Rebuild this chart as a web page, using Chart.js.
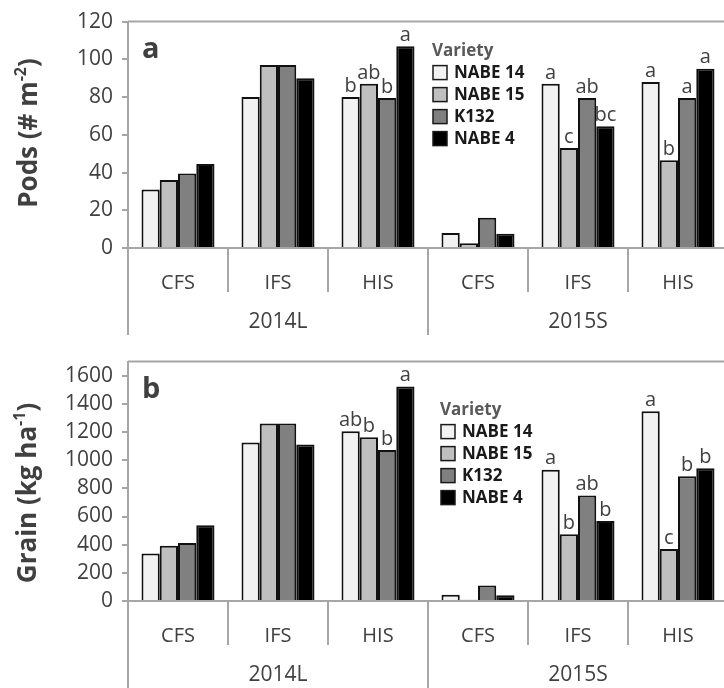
<!DOCTYPE html>
<html>
<head>
<meta charset="utf-8">
<script src="https://cdn.jsdelivr.net/npm/chart.js@4.4.0/dist/chart.umd.min.js"></script>
<style>
  html, body { margin: 0; padding: 0; background: #fff; overflow: hidden; }
  #wrap { position: relative; width: 724px; height: 688px; overflow: hidden; }
  #grafico-a { position: absolute; left: 0; top: 0; }
  #grafico-b { position: absolute; left: 0; top: 340px; }
</style>
</head>
<body>
<div id="wrap">
  <canvas id="grafico-a" width="730" height="340"></canvas>
  <canvas id="grafico-b" width="730" height="348"></canvas>
</div>
<script>
// categorias do eixo x
const sistemas = ['CFS', 'IFS', 'HIS', 'CFS', 'IFS', 'HIS'];
const anos = ['2014L', '2015S'];
const variedades = ['NABE 14', 'NABE 15', 'K132', 'NABE 4'];

// (a) vagens - # m-2
const podsNabe14 = [31, 80, 80, 8, 87, 88];
const podsNabe15 = [36, 97, 87, 2.5, 53, 46.5];
const podsK132 = [39.5, 97, 79.5, 16, 79.5, 79.5];
const podsNabe4 = [44.5, 90, 107, 7.5, 64.5, 95];

const podsLetrasNabe14 = ['', '', 'b', '', 'a', 'a'];
const podsLetrasNabe15 = ['', '', 'ab', '', 'c', 'b'];
const podsLetrasK132 = ['', '', 'b', '', 'ab', 'a'];
const podsLetrasNabe4 = ['', '', 'a', '', 'bc', 'a'];

// (b) grao - kg ha-1
const graoNabe14 = [338, 1126, 1206, 45, 932, 1347];
const graoNabe15 = [392, 1260, 1163, 8, 474, 369];
const graoK132 = [411, 1260, 1072, 110, 749, 885];
const graoNabe4 = [538, 1112, 1523, 40, 568, 943];

const graoLetrasNabe14 = ['', '', 'ab', '', 'a', 'a'];
const graoLetrasNabe15 = ['', '', 'b', '', 'b', 'c'];
const graoLetrasK132 = ['', '', 'b', '', 'ab', 'b'];
const graoLetrasNabe4 = ['', '', 'a', '', 'b', 'b'];

// ticks do eixo y
const ticksPods = [0, 20, 40, 60, 80, 100, 120];
const ticksGrao = [0, 200, 400, 600, 800, 1000, 1200, 1400, 1600];

const cores = ['#f2f2f2', '#bfbfbf', '#808080', '#000000'];
const cinzaEixo = '#a6a6a6';
const corTexto = '#404040';
const fonte = '"Open Sans", "Liberation Sans", sans-serif';

// eixo com dois niveis (sistema / ano)
const eixoMultinivel = {
  id: 'eixoMultinivel',
  afterDraw(chart, args, opts) {
    const ctx = chart.ctx;
    const x = chart.scales.x;
    const base = chart.chartArea.bottom;
    const passo = x.getPixelForValue(1) - x.getPixelForValue(0);
    ctx.save();
    ctx.strokeStyle = cinzaEixo;
    ctx.lineWidth = 2;
    for (let i = 0; i <= sistemas.length; i++) {
      const px = x.getPixelForValue(0) - passo / 2 + i * passo;
      const fimAno = i % 3 === 0;
      ctx.beginPath();
      ctx.moveTo(px, base);
      ctx.lineTo(px, base + (fimAno ? opts.longo : opts.curto));
      ctx.stroke();
    }
    ctx.fillStyle = corTexto;
    ctx.font = '21px ' + fonte;
    ctx.textAlign = 'center';
    ctx.textBaseline = 'middle';
    for (let j = 0; j < anos.length; j++) {
      ctx.fillText(anos[j], x.getPixelForValue(j * 3 + 1), base + opts.anoY);
    }
    ctx.restore();
  }
};

// borda de cima e da direita da area do grafico
const moldura = {
  id: 'moldura',
  beforeDatasetsDraw(chart) {
    const ctx = chart.ctx;
    const a = chart.chartArea;
    ctx.save();
    ctx.strokeStyle = cinzaEixo;
    ctx.lineWidth = 2;
    ctx.beginPath();
    ctx.moveTo(a.left, a.top);
    ctx.lineTo(a.right, a.top);
    ctx.lineTo(a.right, a.bottom);
    ctx.stroke();
    ctx.restore();
  }
};

// letras de significancia em cima das barras
const letrasBarras = {
  id: 'letrasBarras',
  afterDatasetsDraw(chart, args, opts) {
    const ctx = chart.ctx;
    ctx.save();
    ctx.fillStyle = corTexto;
    ctx.font = '20px ' + fonte;
    ctx.textAlign = 'center';
    ctx.textBaseline = 'bottom';
    chart.data.datasets.forEach(function (ds, i) {
      const meta = chart.getDatasetMeta(i);
      meta.data.forEach(function (barra, j) {
        const txt = opts.letras[i][j];
        if (txt) ctx.fillText(txt, barra.x, barra.y - 1);
      });
    });
    ctx.restore();
  }
};

// legenda "Variety", letra do painel e titulo do eixo y
const extras = {
  id: 'extras',
  afterDraw(chart, args, opts) {
    const ctx = chart.ctx;
    const a = chart.chartArea;
    ctx.save();

    // letra do painel
    ctx.fillStyle = corTexto;
    ctx.font = 'bold 29px ' + fonte;
    ctx.textAlign = 'left';
    ctx.textBaseline = 'alphabetic';
    ctx.fillText(opts.painel, a.left + 14, a.top + 36);

    // legenda
    const lx = a.left + opts.legX;
    let ly = a.top + opts.legY;
    ctx.textBaseline = 'middle';
    ctx.fillStyle = '#595959';
    ctx.font = 'bold 17px ' + fonte;
    ctx.fillText('Variety', lx, ly);
    chart.data.datasets.forEach(function (ds, i) {
      const cy = ly + 21 + i * 22;
      ctx.fillStyle = ds.backgroundColor;
      ctx.fillRect(lx + 1, cy - 7, 14, 14);
      ctx.strokeStyle = '#1a1a1a';
      ctx.lineWidth = 1.5;
      ctx.strokeRect(lx + 1, cy - 7, 14, 14);
      ctx.fillStyle = '#1a1a1a';
      ctx.fillText(ds.label, lx + 22, cy + 1);
    });

    // titulo do eixo y com expoente
    ctx.translate(opts.tituloX, opts.tituloY);
    ctx.rotate(-Math.PI / 2);
    const fNormal = 'bold 26px ' + fonte;
    const fSup = 'bold 16px ' + fonte;
    let total = 0;
    opts.titulo.forEach(function (p) {
      ctx.font = p[1] ? fSup : fNormal;
      total += ctx.measureText(p[0]).width;
    });
    let px = -total / 2;
    ctx.fillStyle = corTexto;
    ctx.textAlign = 'left';
    ctx.textBaseline = 'middle';
    opts.titulo.forEach(function (p) {
      ctx.font = p[1] ? fSup : fNormal;
      ctx.fillText(p[0], px, p[1] ? -9 : 0);
      px += ctx.measureText(p[0]).width;
    });
    ctx.restore();
  }
};

function montarDatasets(valores) {
  let lista = [];
  for (let i = 0; i < variedades.length; i++) {
    lista.push({
      label: variedades[i],
      data: valores[i],
      backgroundColor: cores[i],
      borderColor: '#111111',
      borderWidth: 2,
      categoryPercentage: 0.73,
      barPercentage: 1
    });
  }
  return lista;
}

function plotarGrafico(id, valores, letras, ticks, yMax, cfg) {
  console.log('plotando ' + id);
  const config = {
    type: 'bar',
    data: { labels: sistemas, datasets: montarDatasets(valores) },
    options: {
      responsive: false,
      animation: false,
      devicePixelRatio: 1,
      layout: { padding: { top: cfg.topo, right: 2, left: 0, bottom: 0 } },
      scales: {
        x: {
          grid: { display: false },
          border: { display: true, color: cinzaEixo, width: 2 },
          ticks: { color: corTexto, font: { family: fonte, size: 20 }, padding: 15, maxRotation: 0 },
          afterFit: function (s) { s.height = cfg.alturaX; }
        },
        y: {
          min: 0,
          max: yMax,
          afterBuildTicks: function (s) {
            s.ticks = ticks.map(function (v) { return { value: v }; });
          },
          grid: { drawOnChartArea: false, drawTicks: true, tickLength: 6, color: cinzaEixo, lineWidth: 2 },
          border: { display: true, color: cinzaEixo, width: 2 },
          ticks: {
            color: corTexto, font: { family: fonte, size: 21 }, padding: 9,
            callback: function (v) { return String(v); }
          },
          afterFit: function (s) { s.width = 128; }
        }
      },
      plugins: {
        legend: { display: false },
        tooltip: { enabled: false },
        eixoMultinivel: { curto: 44, longo: 87, anoY: 74 },
        letrasBarras: { letras: letras },
        extras: cfg.extras
      }
    },
    plugins: [moldura, eixoMultinivel, letrasBarras, extras]
  };
  return new Chart(document.getElementById(id), config);
}

plotarGrafico('grafico-a',
  [podsNabe14, podsNabe15, podsK132, podsNabe4],
  [podsLetrasNabe14, podsLetrasNabe15, podsLetrasK132, podsLetrasNabe4],
  ticksPods, 120,
  {
    topo: 19, alturaX: 92,
    extras: { painel: 'a', legX: 304, legY: 30, tituloX: 30, tituloY: 133,
      titulo: [['Pods (# m', false], ['-2', true], [')', false]] }
  });

plotarGrafico('grafico-b',
  [graoNabe14, graoNabe15, graoK132, graoNabe4],
  [graoLetrasNabe14, graoLetrasNabe15, graoLetrasK132, graoLetrasNabe4],
  ticksGrao, 1700,
  {
    topo: 18, alturaX: 87,
    extras: { painel: 'b', legX: 312, legY: 49, tituloX: 29, tituloY: 153,
      titulo: [['Grain (kg ha', false], ['-1', true], [')', false]] }
  });
</script>
</body>
</html>
